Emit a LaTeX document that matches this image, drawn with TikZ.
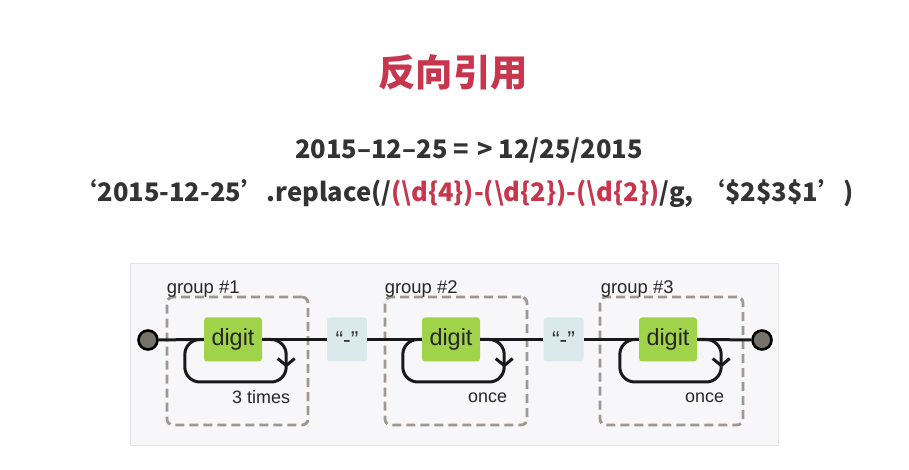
\documentclass[tikz,border=0pt]{standalone}
\usepackage{fontspec}
\setmainfont{Liberation Sans}
\newfontfamily\cjk{Noto Sans CJK SC}
\usetikzlibrary{arrows.meta,positioning,calc}
\definecolor{titlered}{HTML}{C8364E}
\definecolor{ink}{HTML}{333333}
\definecolor{panel}{HTML}{F7F7F9}
\definecolor{panelrule}{HTML}{E4E4E8}
\definecolor{digitgreen}{HTML}{A0D24A}
\definecolor{litblue}{HTML}{DAE9EC}
\definecolor{groupgray}{HTML}{9E9890}
\definecolor{dotgray}{HTML}{77726A}
\tikzset{
  titletext/.style={text=titlered, font=\cjk\bfseries\fontsize{37.5}{40}\selectfont},
  codeline/.style={text=ink, font=\cjk\bfseries\fontsize{25.6}{28}\selectfont},
  digitbox/.style={fill=digitgreen, rounded corners=3bp, minimum width=58bp, minimum height=44bp, inner sep=0pt, text=black!85, font=\fontsize{23.5}{26}\selectfont},
  litbox/.style={fill=litblue, rounded corners=3bp, minimum width=40bp, minimum height=44bp, inner sep=0pt, text=ink, font=\fontsize{23}{26}\selectfont},
  groupbox/.style={draw=groupgray, dash pattern=on 9bp off 5bp, line width=2.8bp, rounded corners=6bp, minimum height=128bp},
  grouplabel/.style={text=black!85, font=\fontsize{18.5}{20}\selectfont, inner sep=1bp},
  countlabel/.style={text=black!85, font=\fontsize{18}{20}\selectfont, inner sep=1bp},
  endpoint/.style={circle, fill=dotgray, draw=black, line width=2.6bp, minimum size=19bp, inner sep=0pt},
  railline/.style={draw=black!90, line width=3bp},
  loopline/.style={draw=black!90, line width=3bp, rounded corners=15bp},
  looptip/.style={-{Straight Barb[length=7bp,width=17bp]}}
}

\begin{document}
\begin{tikzpicture}[x=1bp, y=-1bp]
  \useasboundingbox (0,0) rectangle (909,470);
  \fill[white] (0,0) rectangle (909,470);

  \node[titletext] (title) at (453,72) {反向引用};
  \node[codeline] (date) at (469,150) {2015–12–25 =\,\,> 12/25/2015};
  \node[codeline] (code) at (463,193) {‘2015-12-25’.replace(/\textcolor{titlered}{(\textbackslash d\{4\})-(\textbackslash d\{2\})-(\textbackslash d\{2\})}/g, ‘\$2\$3\$1’)};

  % diagram panel
  \filldraw[fill=panel, draw=panelrule, line width=0.8bp] (130,263) rectangle (778,445);

  \node[groupbox, minimum width=141bp] (g1) at (237.5,361) {};
  \node[groupbox, minimum width=142bp] (g2) at (456,361) {};
  \node[groupbox, minimum width=143bp] (g3) at (671.5,361) {};

  \node[grouplabel, anchor=south west] at ($(g1.north west)+(0,3)$) {group \#1};
  \node[grouplabel, anchor=south west] at ($(g2.north west)+(0,3)$) {group \#2};
  \node[grouplabel, anchor=south west] at ($(g3.north west)+(1,3)$) {group \#3};

  \node[endpoint] (start) at (148,340) {};
  \node[endpoint] (end) at (762,340) {};

  \node[digitbox] (d1) at (233,339.5) {digit};
  \node[litbox] (lit1) at (347,339.5) {“-”};
  \node[digitbox] (d2) at (451,339.5) {digit};
  \node[litbox] (lit2) at (563.5,339.5) {“-”};
  \node[digitbox] (d3) at (668,339.5) {digit};

  \draw[railline] (start) -- (d1.west);
  \draw[railline] (d1.east) -- (lit1.west);
  \draw[railline] (lit1.east) -- (d2.west);
  \draw[railline] (d2.east) -- (lit2.west);
  \draw[railline] (lit2.east) -- (d3.west);
  \draw[railline] (d3.east) -- (end);

  % repeat loops
  \draw[loopline, looptip] (d1.east) -| ($(d1.east)+(24,28)$);
  \draw[loopline] ($(d1.east)+(24,26)$) |- ($(d1.west)+(-19,42.5)$) |- (d1.west);
  \draw[loopline, looptip] (d2.east) -| ($(d2.east)+(24,28)$);
  \draw[loopline] ($(d2.east)+(24,26)$) |- ($(d2.west)+(-19,42.5)$) |- (d2.west);
  \draw[loopline, looptip] (d3.east) -| ($(d3.east)+(24,28)$);
  \draw[loopline] ($(d3.east)+(24,26)$) |- ($(d3.west)+(-19,42.5)$) |- (d3.west);

  \node[countlabel, anchor=east] (c1) at ($(d1.east)+(29,58)$) {3 times};
  \node[countlabel, anchor=east] (c2) at ($(d2.east)+(28,58)$) {once};
  \node[countlabel, anchor=east] (c3) at ($(d3.east)+(28,58)$) {once};
\end{tikzpicture}
\end{document}
